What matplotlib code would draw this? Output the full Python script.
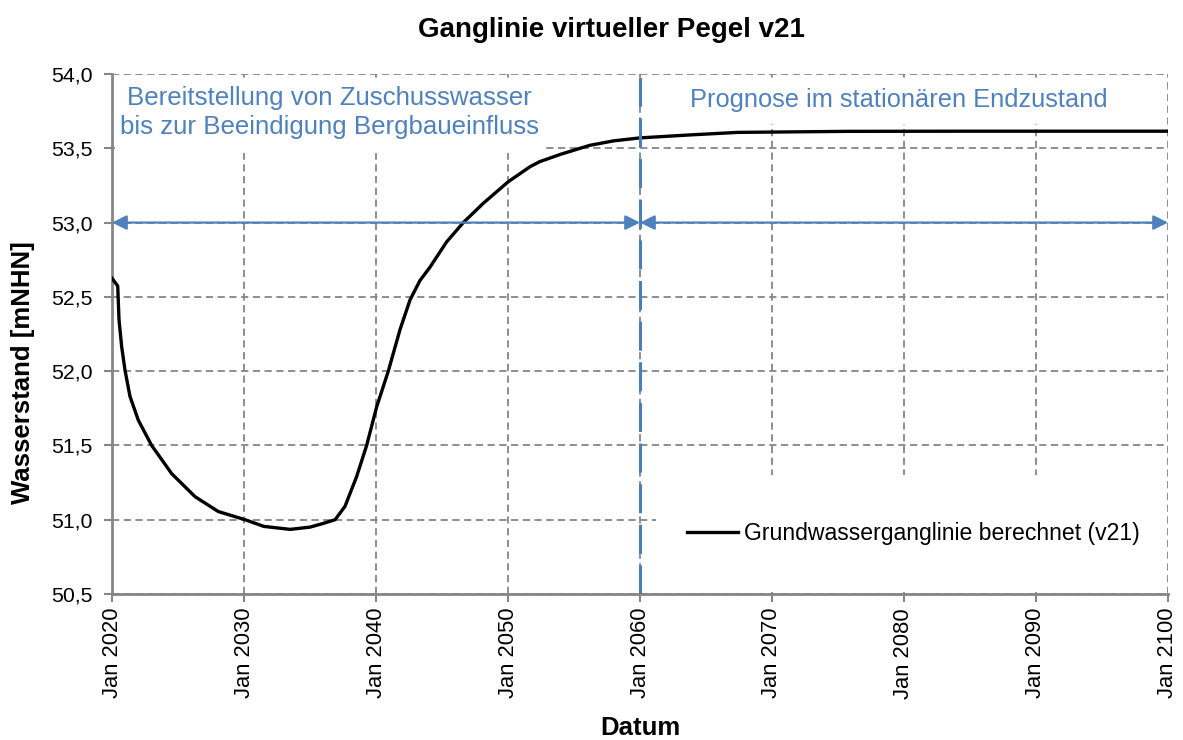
import matplotlib
matplotlib.use("Agg")
import matplotlib.pyplot as plt
from matplotlib.patches import Rectangle

plt.rcParams['font.family'] = ['Liberation Sans', 'DejaVu Sans']

# Ganglinie (Jahr als Dezimalzahl, Wasserstand in mNHN)
jahre = [2020.0, 2020.43, 2020.53, 2020.73, 2020.98, 2021.36, 2021.99, 2023.0,
         2024.52, 2026.29, 2028.05, 2030.08, 2031.5, 2033.5, 2035.0, 2036.0,
         2036.9, 2037.65, 2038.53, 2039.29, 2040.05, 2040.93, 2041.82, 2042.58,
         2043.33, 2044.09, 2045.35, 2046.61, 2048.13, 2050.02, 2051.67, 2052.4,
         2054.0, 2056.2, 2058.0, 2060.0, 2063.8, 2067.4, 2075.8, 2085.0, 2100.0]
wasserstand = [52.625, 52.573, 52.345, 52.165, 52.008, 51.83, 51.67, 51.50,
               51.31, 51.155, 51.055, 51.0, 50.955, 50.935, 50.95, 50.975,
               51.0, 51.09, 51.29, 51.50, 51.76, 52.0, 52.28, 52.48,
               52.61, 52.70, 52.87, 53.0, 53.13, 53.275, 53.376, 53.41,
               53.46, 53.52, 53.55, 53.57, 53.59, 53.607, 53.614, 53.615, 53.615]

x_ticks = [2020, 2030, 2040, 2050, 2060, 2070, 2080, 2090, 2100]
x_labels = ["Jan 2020", "Jan 2030", "Jan 2040", "Jan 2050", "Jan 2060",
            "Jan 2070", "Jan 2080", "Jan 2090", "Jan 2100"]
y_ticks = [50.5, 51.0, 51.5, 52.0, 52.5, 53.0, 53.5, 54.0]
y_labels = ["50,5", "51,0", "51,5", "52,0", "52,5", "53,0", "53,5", "54,0"]

trennjahr = 2060
pfeil_hoehe = 53.0

grau = '#868686'
blau = '#4F81BD'

fig = plt.figure(figsize=(11.83, 7.4), dpi=100)
ax = fig.add_axes([0.0947, 0.1973, 0.8926, 0.7027])

ax.set_xlim(2020, 2100)
ax.set_ylim(50.5, 54.0)
ax.set_xticks(x_ticks)
ax.set_xticklabels(x_labels, rotation=90, fontsize=15.8)
ax.set_yticks(y_ticks)
ax.set_yticklabels(y_labels, fontsize=15.3)
ax.tick_params(colors=grau, labelcolor='black', length=6, width=1.5)
ax.tick_params(axis='y', pad=8)
ax.tick_params(axis='x', pad=4)

ax.set_axisbelow(True)
ax.grid(True, color=grau, linestyle=(0, (4, 2.5)), linewidth=1.3)
for s in ['top', 'right']:
    ax.spines[s].set_visible(False)
for s in ['left', 'bottom']:
    ax.spines[s].set_color(grau)
    ax.spines[s].set_linewidth(2)

# weisse Flaechen hinter Texten und Legende
for (x0, y0, w, h) in [(0.003, 0.848, 0.408, 0.144),
                       (0.505, 0.904, 0.492, 0.088),
                       (0.515, 0.004, 0.482, 0.224)]:
    ax.add_patch(Rectangle((x0, y0), w, h, transform=ax.transAxes,
                           facecolor='white', edgecolor='none', zorder=1))

ax.plot(jahre, wasserstand, color='black', linewidth=2.4, zorder=3,
        label='Grundwasserganglinie berechnet (v21)')

ax.axvline(trennjahr, color='#4A7EBB', linewidth=2.2, linestyle=(0, (9.5, 3.8)), zorder=4)

for a, b in [(2020, trennjahr), (trennjahr, 2100)]:
    ax.annotate('', xy=(b, pfeil_hoehe), xytext=(a, pfeil_hoehe),
                arrowprops=dict(arrowstyle='<|-|>', color=blau, lw=1.6,
                                mutation_scale=22, shrinkA=0, shrinkB=0),
                zorder=4)

ax.text(2036.45, 53.74, "Bereitstellung von Zuschusswasser\nbis zur Beeindigung Bergbaueinfluss",
        color=blau, fontsize=18.6, ha='center', va='center', linespacing=1.3, zorder=5)
ax.text(2079.6, 53.78, "Prognose im stationären Endzustand",
        color=blau, fontsize=18.3, ha='center', va='baseline', zorder=5)

leg = ax.legend(loc='center', bbox_to_anchor=(0.759, 0.117), frameon=False,
                fontsize=16.6, handlelength=2.2, handletextpad=0.25, borderpad=0)
leg.set_zorder(5)

fig.text(0.517, 1 - 30 / 740, "Ganglinie virtueller Pegel v21",
         fontsize=20, fontweight='bold', ha='center', va='center')
fig.text(0.541, 1 - 728 / 740, "Datum", fontsize=18.5, fontweight='bold',
         ha='center', va='center')
fig.text(23 / 1183, 1 - 373 / 740, "Wasserstand [mNHN]", fontsize=18.5,
         fontweight='bold', ha='center', va='center', rotation=90)

fig.savefig("out.png", dpi=100)
